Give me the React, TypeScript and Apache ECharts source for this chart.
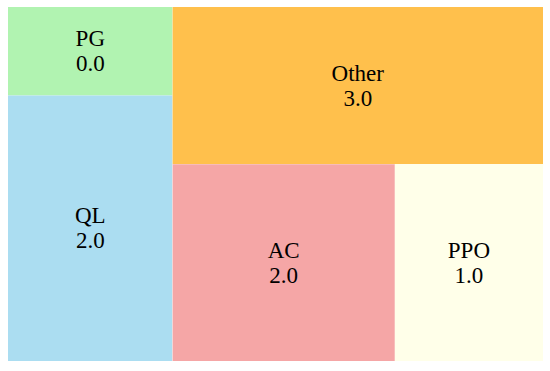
import React, { useEffect, useRef } from "react";
import * as echarts from "echarts";

const categories: string[] = ["PG", "QL", "Other", "AC", "PPO"];
const values: number[] = [0, 2, 3, 2, 1];
// Cell areas in the picture are proportional to value + 1
const areaWeights: number[] = values.map((v) => v + 1);
const colors: string[] = ["#b1f3b1", "#abddf1", "#ffc04c", "#f5a6a6", "#ffffe9"];

function leaf(i: number) {
  return {
    name: categories[i],
    value: areaWeights[i],
    display: values[i],
    itemStyle: { color: colors[i] },
  };
}

function group(name: string, children: any[]) {
  return {
    name,
    children,
    itemStyle: { color: "transparent", borderWidth: 0, gapWidth: 0 },
    label: { show: false },
  };
}

// Nesting reproduces the reference arrangement
const treeData = [leaf(0), leaf(1), group("g1", [leaf(2), group("g2", [leaf(3), leaf(4)])])];

export default function App() {
  const ref = useRef<HTMLDivElement>(null);
  useEffect(() => {
    if (!ref.current) return;
    const chart = echarts.init(ref.current, undefined, { renderer: "svg" });
    const lvl = { itemStyle: { borderWidth: 0, gapWidth: 0 }, upperLabel: { show: false } };
    chart.setOption({
      animation: false,
      series: [
        {
          type: "treemap",
          left: 8,
          top: 7,
          right: 7,
          bottom: 10,
          sort: false,
          roam: false,
          nodeClick: false,
          breadcrumb: { show: false },
          itemStyle: { borderWidth: 0, gapWidth: 0 },
          levels: [lvl, lvl, lvl, lvl],
          label: {
            show: true,
            position: "inside",
            align: "center",
            verticalAlign: "middle",
            color: "#000",
            fontFamily: "Liberation Serif",
            fontSize: 23,
            lineHeight: 25,
            formatter: (p: any) => `${p.name}\n${(p.data.display as number).toFixed(1)}`,
          },
          emphasis: { disabled: true },
          data: treeData,
        },
      ],
    });
    return () => chart.dispose();
  }, []);
  return <div ref={ref} style={{ position: "absolute", left: 0, top: 0, width: 550, height: 371 }} />;
}
